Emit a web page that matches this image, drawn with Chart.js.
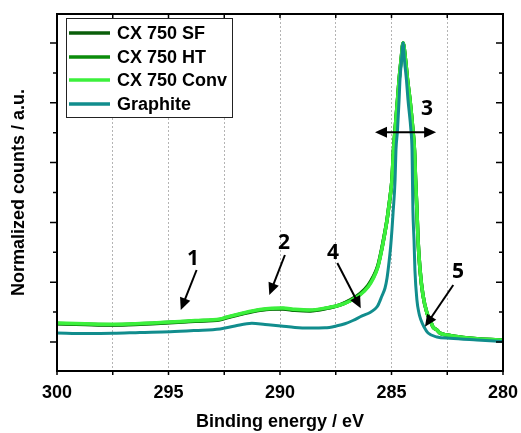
<!DOCTYPE html>
<html>
<head>
<meta charset="utf-8">
<script src="https://cdn.jsdelivr.net/npm/chart.js@4.4.1/dist/chart.umd.min.js"></script>
<style>
  html, body { margin: 0; padding: 0; background: #fff; }
  #wrap { width: 521px; height: 433px; position: relative; }
</style>
</head>
<body>
<div id="wrap"><canvas id="c" width="521" height="433"></canvas></div>
<script>
// ---------- DATA ----------
const seriesLabels = ['CX 750 SF', 'CX 750 HT', 'CX 750 Conv', 'Graphite'];

const energyCX = [300.00, 298.74, 297.49, 296.28, 294.93, 293.81, 292.69, 292.38, 291.66, 290.90,
  290.36, 289.87, 289.33, 288.65, 287.89, 287.31, 286.86, 286.41, 286.05, 285.83,
  285.61, 285.43, 285.29, 285.20, 285.11, 285.04, 284.98, 284.91, 284.84, 284.73,
  284.66, 284.57, 284.48, 284.37, 284.28, 284.17, 284.04, 283.97, 283.92, 283.86,
  283.81, 283.72, 283.59, 283.41, 283.27, 283.14, 282.96, 282.83, 282.51, 281.79,
  281.03, 280.00];

const cxConv = [0.0635, 0.0609, 0.0592, 0.0619, 0.0669, 0.0719, 0.0769, 0.0836, 0.0970, 0.1087,
  0.1130, 0.1137, 0.1094, 0.1070, 0.1147, 0.1237, 0.1371, 0.1572, 0.1839, 0.2107,
  0.2508, 0.3110, 0.3679, 0.4080, 0.4582, 0.4983, 0.5418, 0.6421, 0.7090, 0.8094,
  0.8763, 0.9431, 1.0000, 0.9431, 0.8763, 0.8094, 0.7090, 0.6421, 0.5418, 0.4415,
  0.3411, 0.2408, 0.1572, 0.0970, 0.0736, 0.0502, 0.0401, 0.0301, 0.0234, 0.0151,
  0.0100, 0.0067];

const cxSF = [0.0610, 0.0585, 0.0568, 0.0595, 0.0645, 0.0695, 0.0745, 0.0810, 0.0945, 0.1060,
  0.1100, 0.1105, 0.1062, 0.1040, 0.1125, 0.1240, 0.1400, 0.1620, 0.1900, 0.2170,
  0.2560, 0.3150, 0.3700, 0.4090, 0.4590, 0.4990, 0.5420, 0.6421, 0.7090, 0.8094,
  0.8763, 0.9431, 1.0000, 0.9431, 0.8763, 0.8094, 0.7090, 0.6421, 0.5418, 0.4415,
  0.3411, 0.2408, 0.1572, 0.0970, 0.0736, 0.0502, 0.0401, 0.0301, 0.0234, 0.0151,
  0.0100, 0.0067];

const cxHT = [0.0622, 0.0597, 0.0580, 0.0607, 0.0657, 0.0707, 0.0757, 0.0823, 0.0958, 0.1074,
  0.1115, 0.1121, 0.1078, 0.1055, 0.1136, 0.1238, 0.1385, 0.1596, 0.1870, 0.2138,
  0.2534, 0.3130, 0.3690, 0.4085, 0.4586, 0.4986, 0.5419, 0.6421, 0.7090, 0.8094,
  0.8763, 0.9431, 1.0000, 0.9431, 0.8763, 0.8094, 0.7090, 0.6421, 0.5418, 0.4415,
  0.3411, 0.2408, 0.1572, 0.0970, 0.0736, 0.0502, 0.0401, 0.0301, 0.0234, 0.0151,
  0.0100, 0.0067];

const energyGraphite = [300.00, 298.74, 297.49, 296.28, 294.93, 293.81, 292.69, 292.02, 291.26, 290.67,
  289.96, 289.33, 288.65, 287.98, 287.44, 287.09, 286.73, 286.32, 285.96, 285.74,
  285.61, 285.43, 285.29, 285.20, 285.11, 285.04, 284.98, 284.93, 284.84, 284.80,
  284.73, 284.66, 284.62, 284.55, 284.48, 284.42, 284.33, 284.26, 284.13, 284.08,
  284.06, 284.04, 283.99, 283.95, 283.86, 283.77, 283.68, 283.54, 283.36, 282.96,
  282.38, 281.17, 280.00];

const graphite = [0.0301, 0.0284, 0.0291, 0.0318, 0.0344, 0.0385, 0.0435, 0.0535, 0.0625, 0.0585,
  0.0535, 0.0485, 0.0468, 0.0475, 0.0542, 0.0609, 0.0719, 0.0870, 0.0987, 0.1104,
  0.1221, 0.1538, 0.1806, 0.2140, 0.2676, 0.3177, 0.3746, 0.4314, 0.5418, 0.6421,
  0.7090, 0.8094, 0.8763, 0.9431, 1.0000, 0.9431, 0.8763, 0.8094, 0.7090, 0.6421,
  0.5418, 0.4415, 0.3411, 0.2408, 0.1405, 0.0970, 0.0736, 0.0502, 0.0301, 0.0167,
  0.0124, 0.0067, 0.0017];

const xTickValues = [300, 297.5, 295, 292.5, 290, 287.5, 285, 282.5, 280];
const xTickLabels = ['300', '', '295', '', '290', '', '285', '', '280'];
const yMajorTicks = [0, 0.2, 0.4, 0.6, 0.8, 1.0];
const yMinorTicks = [0.1, 0.3, 0.5, 0.7, 0.9];

// annotations in data coordinates (binding energy, normalized counts)
const markerTexts = ['1', '2', '3', '4', '5'];
const markerTextPos = [[293.90, 0.2776], [289.82, 0.3311], [283.41, 0.7793], [287.62, 0.2977], [282.02, 0.2341]];
const arrowFrom = [[293.74, 0.2408], [289.78, 0.2910], [285.74, 0.7013], [287.43, 0.2642], [282.23, 0.1906]];
const arrowTo   = [[294.45, 0.1070], [290.48, 0.1572], [283.00, 0.7013], [286.38, 0.1127], [283.50, 0.0512]];
const arrowDouble = [false, false, true, false, false];

// ---------- CHART ----------
const FONT = "'Liberation Sans', Arial, sans-serif";
const colors = ['#0a5e0a', '#0b8c0b', '#3cf03c', '#118d8d'];
const widths = [3.5, 3.5, 3.5, 3];

function pts(xs, ys) { return xs.map((x, i) => ({ x: x, y: ys[i] })); }

const seriesData = [pts(energyCX, cxSF), pts(energyCX, cxHT), pts(energyCX, cxConv), pts(energyGraphite, graphite)];

const datasets = seriesLabels.map((lab, i) => ({
  label: lab,
  data: seriesData[i],
  borderColor: colors[i],
  backgroundColor: colors[i],
  borderWidth: widths[i],
  pointRadius: 0,
  fill: false,
  cubicInterpolationMode: 'monotone',
  order: 3 - i
}));

function drawArrowHead(ctx, x1, y1, x2, y2) {
  const ang = Math.atan2(y2 - y1, x2 - x1);
  const L = 12, W = 5.5;
  ctx.beginPath();
  ctx.moveTo(x2, y2);
  ctx.lineTo(x2 - L * Math.cos(ang) + W * Math.sin(ang), y2 - L * Math.sin(ang) - W * Math.cos(ang));
  ctx.lineTo(x2 - L * Math.cos(ang) - W * Math.sin(ang), y2 - L * Math.sin(ang) + W * Math.cos(ang));
  ctx.closePath();
  ctx.fill();
}

const decorPlugin = {
  id: 'decor',
  afterDatasetsDraw(chart) {
    const { ctx, scales: { x, y } } = chart;
    ctx.save();
    ctx.strokeStyle = '#000';
    ctx.fillStyle = '#000';
    ctx.lineWidth = 2;
    arrowFrom.forEach((f, i) => {
      const x1 = x.getPixelForValue(f[0]), y1 = y.getPixelForValue(f[1]);
      const x2 = x.getPixelForValue(arrowTo[i][0]), y2 = y.getPixelForValue(arrowTo[i][1]);
      const ang = Math.atan2(y2 - y1, x2 - x1);
      const sx = arrowDouble[i] ? x1 + 9 * Math.cos(ang) : x1;
      const sy = arrowDouble[i] ? y1 + 9 * Math.sin(ang) : y1;
      ctx.beginPath();
      ctx.moveTo(sx, sy);
      ctx.lineTo(x2 - 9 * Math.cos(ang), y2 - 9 * Math.sin(ang));
      ctx.stroke();
      drawArrowHead(ctx, x1, y1, x2, y2);
      if (arrowDouble[i]) drawArrowHead(ctx, x2, y2, x1, y1);
    });
    ctx.font = "bold 21px 'Open Sans', 'Liberation Sans', sans-serif";
    ctx.textAlign = 'center';
    ctx.textBaseline = 'middle';
    markerTexts.forEach((t, i) => {
      ctx.fillText(t, x.getPixelForValue(markerTextPos[i][0]), y.getPixelForValue(markerTextPos[i][1]));
    });
    ctx.restore();
  },
  afterDraw(chart) {
    const { ctx, chartArea: { left, right, top, bottom }, scales: { x, y } } = chart;
    ctx.save();
    ctx.strokeStyle = '#000';
    ctx.lineWidth = 2;
    ctx.strokeRect(left, top, right - left, bottom - top);
    ctx.lineWidth = 1.5;
    ctx.beginPath();
    xTickValues.forEach(v => {
      const px = x.getPixelForValue(v);
      ctx.moveTo(px, bottom); ctx.lineTo(px, bottom + 4);
      ctx.moveTo(px, top); ctx.lineTo(px, top + 4);
    });
    yMajorTicks.forEach(v => {
      const py = y.getPixelForValue(v);
      ctx.moveTo(left - 7, py); ctx.lineTo(left, py);
      ctx.moveTo(right - 7, py); ctx.lineTo(right, py);
    });
    yMinorTicks.forEach(v => {
      const py = y.getPixelForValue(v);
      ctx.moveTo(left - 4, py); ctx.lineTo(left, py);
      ctx.moveTo(right - 4, py); ctx.lineTo(right, py);
    });
    ctx.stroke();

    // legend box
    const bx = 66.5, by = 18.5, bw = 166, bh = 99;
    ctx.fillStyle = '#fff';
    ctx.fillRect(bx, by, bw, bh);
    ctx.lineWidth = 1;
    ctx.strokeStyle = '#222';
    ctx.strokeRect(bx, by, bw, bh);
    const rowY = [33, 57, 80, 104];
    ctx.font = 'bold 18px ' + FONT;
    ctx.textAlign = 'left';
    ctx.textBaseline = 'middle';
    seriesLabels.forEach((lab, i) => {
      ctx.strokeStyle = colors[i];
      ctx.lineWidth = 3.5;
      ctx.beginPath();
      ctx.moveTo(69, rowY[i]); ctx.lineTo(110, rowY[i]);
      ctx.stroke();
      ctx.fillStyle = '#000';
      ctx.fillText(lab, 117, rowY[i] + 1);
    });
    ctx.restore();
  }
};

new Chart(document.getElementById('c'), {
  type: 'line',
  data: { datasets: datasets },
  options: {
    responsive: false,
    animation: false,
    layout: { padding: { left: 0, right: 18, top: 14, bottom: 0 } },
    plugins: { legend: { display: false }, tooltip: { enabled: false } },
    scales: {
      x: {
        type: 'linear',
        reverse: true,
        min: 280,
        max: 300,
        afterFit: s => { s.height = 62; s.paddingLeft = 0; s.paddingRight = 0; },
        afterBuildTicks: s => { s.ticks = xTickValues.map(v => ({ value: v })); },
        grid: { display: true, color: '#b4b4b4', lineWidth: 1, drawTicks: false },
        border: { display: false, dash: [2, 2] },
        ticks: {
          autoSkip: false,
          maxRotation: 0,
          padding: 11,
          color: '#000',
          font: { family: FONT, size: 18, weight: 'bold' },
          callback: (v, i) => xTickLabels[i]
        },
        title: {
          display: true,
          text: 'Binding energy / eV',
          color: '#000',
          font: { family: FONT, size: 18, weight: 'bold' },
          padding: { top: 0, bottom: 0 }
        }
      },
      y: {
        type: 'linear',
        min: -0.097,
        max: 1.097,
        afterFit: s => { s.width = 57; },
        grid: { display: false },
        border: { display: false },
        ticks: { display: false },
        title: {
          display: true,
          text: 'Normalized counts / a.u.',
          color: '#000',
          font: { family: FONT, size: 18, weight: 'bold' },
          padding: { top: 8, bottom: 0 }
        }
      }
    }
  },
  plugins: [decorPlugin]
});
</script>
</body>
</html>
